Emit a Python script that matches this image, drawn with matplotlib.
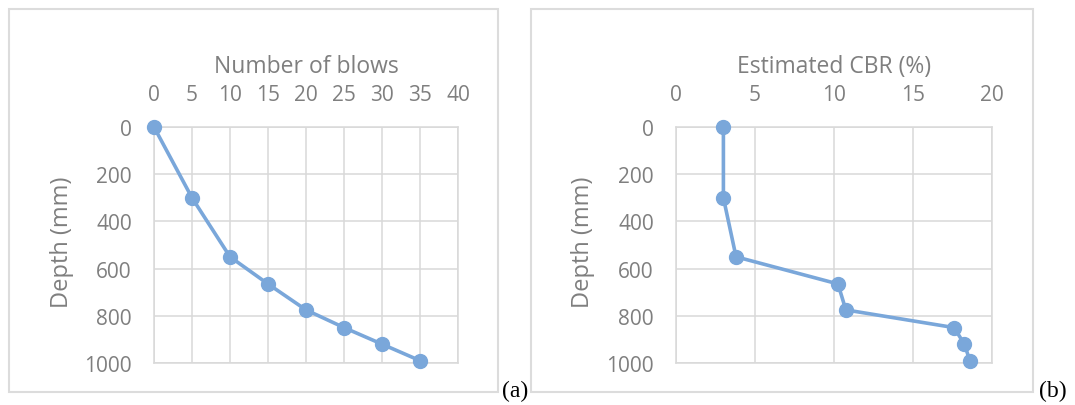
import matplotlib
matplotlib.use("Agg")
import matplotlib.pyplot as plt
from matplotlib.patches import Rectangle

depth = [0, 300, 550, 665, 775, 850, 920, 990]
blows = [0, 5, 10, 15, 20, 25, 30, 35]
cbr = [3.0, 3.0, 3.8, 10.25, 10.75, 17.6, 18.25, 18.6]

line_col = "#7aa7da"
grid_col = "#d9d9d9"
text_col = "#7f7f7f"
plt.rcParams["font.family"] = ["Open Sans", "DejaVu Sans"]

W, H = 1075, 406
fig = plt.figure(figsize=(W / 100, H / 100), dpi=100)

def fx(px):
    return px / W

def fy(py):
    return 1 - py / H

# panel frames
for x0, x1 in [(9, 498), (531, 1033)]:
    fig.patches.append(Rectangle((fx(x0), fy(393)), fx(x1 - x0), (393 - 10) / H,
                                 transform=fig.transFigure, fill=False,
                                 edgecolor="#dcdcdc", linewidth=1.5))

ax1 = fig.add_axes([fx(154), fy(364), fx(458 - 154), (364 - 128) / H])
ax2 = fig.add_axes([fx(676), fy(364), fx(992 - 676), (364 - 128) / H])

panels = [(ax1, blows, (0, 40), range(0, 45, 5), "Number of blows", 306, 62),
          (ax2, cbr, (0, 20), range(0, 25, 5), "Estimated CBR (%)", 834, 583)]

for ax, xs, xlim, xt, title, tx, lx in panels:
    ax.plot(xs, depth, color=line_col, linewidth=2.6, marker="o", markersize=10,
            clip_on=False, zorder=3)
    ax.set_xlim(*xlim)
    ax.set_ylim(1000, 0)
    ax.set_xticks(list(xt))
    ax.set_yticks(range(0, 1200, 200))
    ax.xaxis.tick_top()
    ax.grid(True, color=grid_col, linewidth=1.1)
    ax.set_axisbelow(True)
    for s in ax.spines.values():
        s.set_color(grid_col)
        s.set_linewidth(1.1)
    ax.tick_params(length=0, labelsize=15, labelcolor=text_col, pad=16)
    fig.text(fx(tx), fy(73), title, fontsize=16.5, color=text_col,
             ha="center", va="baseline")
    fig.text(fx(lx), fy(242), "Depth (mm)", fontsize=17, color=text_col,
             rotation=90, ha="center", va="center")

fig.text(fx(502), fy(391), "(a)", family="Liberation Serif", fontsize=17,
         ha="left", va="center", color="black")
fig.text(fx(1039), fy(391), "(b)", family="Liberation Serif", fontsize=17,
         ha="left", va="center", color="black")

fig.savefig("out.png", dpi=100)
